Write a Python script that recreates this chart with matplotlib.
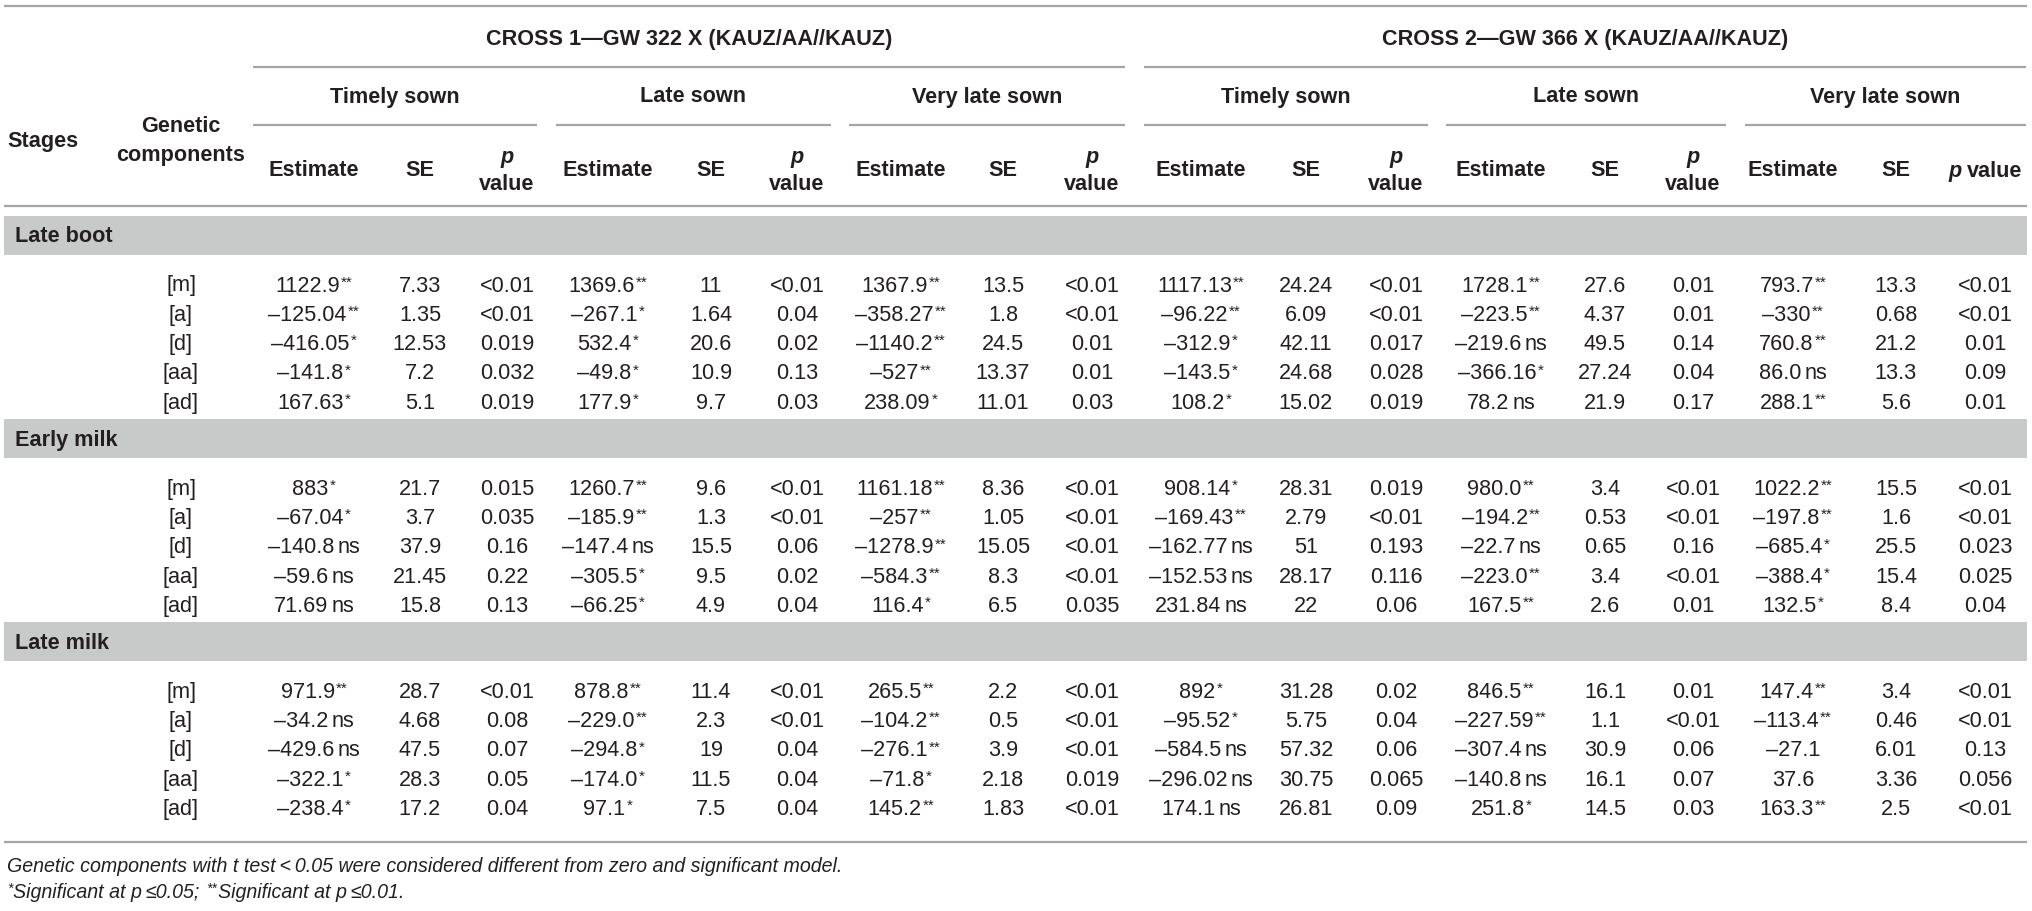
import matplotlib.pyplot as plt
from matplotlib.patches import Rectangle

plt.rcParams['font.family'] = ['Liberation Sans', 'DejaVu Sans']

# ---- table content ----
crosses = ['CROSS 1\u2014GW 322 X (KAUZ/AA//KAUZ)', 'CROSS 2\u2014GW 366 X (KAUZ/AA//KAUZ)']
sowings = ['Timely sown', 'Late sown', 'Very late sown']
stages = ['Late boot', 'Early milk', 'Late milk']
components = ['[m]', '[a]', '[d]', '[aa]', '[ad]']

# each row: (estimate, SE, p) x 3 sowings x 2 crosses
late_boot = [
    ['1122.9**', '7.33', '<0.01', '1369.6**', '11', '<0.01', '1367.9**', '13.5', '<0.01',
     '1117.13**', '24.24', '<0.01', '1728.1**', '27.6', '0.01', '793.7**', '13.3', '<0.01'],
    ['-125.04**', '1.35', '<0.01', '-267.1*', '1.64', '0.04', '-358.27**', '1.8', '<0.01',
     '-96.22**', '6.09', '<0.01', '-223.5**', '4.37', '0.01', '-330**', '0.68', '<0.01'],
    ['-416.05*', '12.53', '0.019', '532.4*', '20.6', '0.02', '-1140.2**', '24.5', '0.01',
     '-312.9*', '42.11', '0.017', '-219.6ns', '49.5', '0.14', '760.8**', '21.2', '0.01'],
    ['-141.8*', '7.2', '0.032', '-49.8*', '10.9', '0.13', '-527**', '13.37', '0.01',
     '-143.5*', '24.68', '0.028', '-366.16*', '27.24', '0.04', '86.0ns', '13.3', '0.09'],
    ['167.63*', '5.1', '0.019', '177.9*', '9.7', '0.03', '238.09*', '11.01', '0.03',
     '108.2*', '15.02', '0.019', '78.2ns', '21.9', '0.17', '288.1**', '5.6', '0.01'],
]
early_milk = [
    ['883*', '21.7', '0.015', '1260.7**', '9.6', '<0.01', '1161.18**', '8.36', '<0.01',
     '908.14*', '28.31', '0.019', '980.0**', '3.4', '<0.01', '1022.2**', '15.5', '<0.01'],
    ['-67.04*', '3.7', '0.035', '-185.9**', '1.3', '<0.01', '-257**', '1.05', '<0.01',
     '-169.43**', '2.79', '<0.01', '-194.2**', '0.53', '<0.01', '-197.8**', '1.6', '<0.01'],
    ['-140.8ns', '37.9', '0.16', '-147.4ns', '15.5', '0.06', '-1278.9**', '15.05', '<0.01',
     '-162.77ns', '51', '0.193', '-22.7ns', '0.65', '0.16', '-685.4*', '25.5', '0.023'],
    ['-59.6ns', '21.45', '0.22', '-305.5*', '9.5', '0.02', '-584.3**', '8.3', '<0.01',
     '-152.53ns', '28.17', '0.116', '-223.0**', '3.4', '<0.01', '-388.4*', '15.4', '0.025'],
    ['71.69ns', '15.8', '0.13', '-66.25*', '4.9', '0.04', '116.4*', '6.5', '0.035',
     '231.84ns', '22', '0.06', '167.5**', '2.6', '0.01', '132.5*', '8.4', '0.04'],
]
late_milk = [
    ['971.9**', '28.7', '<0.01', '878.8**', '11.4', '<0.01', '265.5**', '2.2', '<0.01',
     '892*', '31.28', '0.02', '846.5**', '16.1', '0.01', '147.4**', '3.4', '<0.01'],
    ['-34.2ns', '4.68', '0.08', '-229.0**', '2.3', '<0.01', '-104.2**', '0.5', '<0.01',
     '-95.52*', '5.75', '0.04', '-227.59**', '1.1', '<0.01', '-113.4**', '0.46', '<0.01'],
    ['-429.6ns', '47.5', '0.07', '-294.8*', '19', '0.04', '-276.1**', '3.9', '<0.01',
     '-584.5ns', '57.32', '0.06', '-307.4ns', '30.9', '0.06', '-27.1', '6.01', '0.13'],
    ['-322.1*', '28.3', '0.05', '-174.0*', '11.5', '0.04', '-71.8*', '2.18', '0.019',
     '-296.02ns', '30.75', '0.065', '-140.8ns', '16.1', '0.07', '37.6', '3.36', '0.056'],
    ['-238.4*', '17.2', '0.04', '97.1*', '7.5', '0.04', '145.2**', '1.83', '<0.01',
     '174.1ns', '26.81', '0.09', '251.8*', '14.5', '0.03', '163.3**', '2.5', '<0.01'],
]
stage_rows = [late_boot, early_milk, late_milk]

# ---- layout (pixels) ----
W, H = 2032, 911
est_x = [314, 608, 901, 1201, 1501, 1793]
se_x = [420, 711, 1003, 1306, 1605, 1896]
p_x = [507, 797, 1092, 1396, 1693, 1985]
group_span = [(253, 537), (556, 831), (849, 1125), (1144, 1428), (1446, 1726), (1745, 2026)]
cross_span = [(253, 1125), (1144, 2026)]
comp_x = 181
row_h = 29.3

INK = '#231f20'
LINE = '#a2a4a6'
BAND = '#c8c9c9'
FS = 15.6
SUP = 11
FN = 14.1

fig = plt.figure(figsize=(W / 100, H / 100), dpi=100)
ax = fig.add_axes([0, 0, 1, 1])
ax.set_xlim(0, W)
ax.set_ylim(H, 0)
ax.axis('off')
rend = fig.canvas.get_renderer()


def width(s, size, style='normal', weight='normal'):
    t = ax.text(0, 0, s, fontsize=size, style=style, weight=weight)
    w = t.get_window_extent(rend).width
    t.remove()
    return w


def run(x, y, pieces, align='center'):
    # pieces: (text, size, style, weight, rise, gap after)
    ws = [width(s, sz, st, wt) for s, sz, st, wt, r, g in pieces]
    total = sum(ws) + sum(p[5] for p in pieces[:-1])
    if align == 'center':
        x -= total / 2
    for (s, sz, st, wt, r, g), w in zip(pieces, ws):
        ax.text(x, y - r, s, fontsize=sz, style=st, weight=wt, color=INK,
                ha='left', va='baseline')
        x += w + g


def est_pieces(s):
    s = s.replace('-', '\u2013')
    if s.endswith('ns'):
        return [(s[:-2], FS, 'normal', 'normal', 0, 3), ('ns', FS, 'normal', 'normal', 0, 0)]
    base = s.rstrip('*')
    stars = len(s) - len(base)
    pieces = [(base, FS, 'normal', 'normal', 0, 1)]
    if stars:
        pieces.append(('*' * stars, SUP, 'normal', 'normal', 5, 0))
    return pieces


def hline(y, x0, x1):
    ax.plot([x0, x1], [y, y], color=LINE, lw=1.6, solid_capstyle='butt')


# ---- header ----
hline(6, 4, 2027)
for (x0, x1), name in zip(cross_span, crosses):
    ax.text((x0 + x1) / 2, 40, name, fontsize=FS, weight='bold', color=INK, ha='center', va='center')
    hline(67, x0, x1)
for i, (x0, x1) in enumerate(group_span):
    ax.text((x0 + x1) / 2, 97, sowings[i % 3], fontsize=FS, weight='bold', color=INK,
            ha='center', va='center')
    hline(125, x0, x1)

ax.text(7, 141, 'Stages', fontsize=FS, weight='bold', color=INK, ha='left', va='center')
ax.text(comp_x, 127, 'Genetic', fontsize=FS, weight='bold', color=INK, ha='center', va='center')
ax.text(comp_x, 156, 'components', fontsize=FS, weight='bold', color=INK, ha='center', va='center')

for j in range(6):
    ax.text(est_x[j], 171, 'Estimate', fontsize=FS, weight='bold', color=INK, ha='center', va='center')
    ax.text(se_x[j], 171, 'SE', fontsize=FS, weight='bold', color=INK, ha='center', va='center')
    if j < 5:
        ax.text(p_x[j], 157, 'p', fontsize=FS, weight='bold', style='italic', color=INK,
                ha='center', va='center')
        ax.text(p_x[j], 185, 'value', fontsize=FS, weight='bold', color=INK, ha='center', va='center')
    else:
        run(p_x[j], 177, [('p', FS, 'italic', 'bold', 0, 5), ('value', FS, 'normal', 'bold', 0, 0)])
hline(206, 4, 2027)

# ---- body ----
y = 216
for stage, rows in zip(stages, stage_rows):
    ax.add_patch(Rectangle((4, y), 2023, 39, facecolor=BAND, edgecolor='none'))
    ax.text(15, y + 21, stage, fontsize=FS, weight='bold', color=INK, ha='left', va='center')
    y += 69
    for comp, row in zip(components, rows):
        base = y + 6.5
        ax.text(comp_x, base, comp, fontsize=FS, color=INK, ha='center', va='baseline')
        for j in range(6):
            run(est_x[j], base, est_pieces(row[3 * j]))
            ax.text(se_x[j], base, row[3 * j + 1], fontsize=FS, color=INK, ha='center', va='baseline')
            ax.text(p_x[j], base, row[3 * j + 2], fontsize=FS, color=INK, ha='center', va='baseline')
        y += row_h
    y -= row_h
    y += 17
hline(842, 4, 2027)

# ---- footnotes ----
ax.text(7, 872, 'Genetic components with t test\u2009<\u20090.05 were considered different from zero and significant model.',
        fontsize=FN, style='italic', color=INK, ha='left', va='baseline')
run(7, 898, [('*', 10, 'italic', 'normal', 5, 1), ('Significant at', FN, 'italic', 'normal', 0, 5),
             ('p', FN, 'italic', 'normal', 0, 4), ('\u22640.05;', FN, 'italic', 'normal', 0, 6),
             ('**', 10, 'italic', 'normal', 5, 1), ('Significant at', FN, 'italic', 'normal', 0, 5),
             ('p', FN, 'italic', 'normal', 0, 4), ('\u22640.01.', FN, 'italic', 'normal', 0, 0)],
    align='left')

fig.savefig('out.png', dpi=100)
